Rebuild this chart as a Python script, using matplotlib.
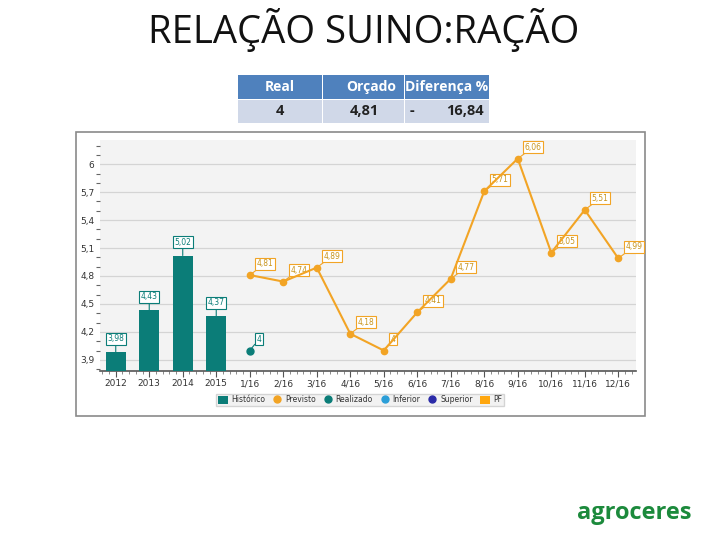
import matplotlib
matplotlib.use("Agg")
import matplotlib.pyplot as plt
from matplotlib.patches import Rectangle
from matplotlib.lines import Line2D
from matplotlib.patches import Patch

# dados
categorias = ["2012", "2013", "2014", "2015", "1/16", "2/16", "3/16", "4/16", "5/16", "6/16",
              "7/16", "8/16", "9/16", "10/16", "11/16", "12/16"]
historico = [3.98, 4.43, 5.02, 4.37]
previsto = [4.81, 4.74, 4.89, 4.18, 4.00, 4.41, 4.77, 5.71, 6.06, 5.05, 5.51, 4.99]
realizado = [4.0]
y_ticks = [3.9, 4.2, 4.5, 4.8, 5.1, 5.4, 5.7, 6.0]
tab_header = ["Real", "Orçado", "Diferença %"]
tab_valores = ["4", "4,81", "-", "16,84"]

TEAL = "#0b7d78"
ORANGE = "#f2a425"
GOLD = "#c8951e"


def fmt(v):
    s = f"{v:.2f}".rstrip("0").rstrip(".")
    return s.replace(".", ",")


fig = plt.figure(figsize=(7.2, 5.4), dpi=100)

# titulo
fig.text(0.505, 0.945, "RELAÇÃO SUINO:RAÇÃO", ha="center", va="center",
         fontsize=27.5, family="Open Sans", color="#111111")

# tabela
col_x = [238, 323, 405, 490]
for i, h in enumerate(tab_header):
    x0 = col_x[i] / 720
    w = (col_x[i + 1] - col_x[i] - 1) / 720
    fig.patches.append(Rectangle((x0, 1 - 99 / 540), w, 24 / 540, transform=fig.transFigure,
                                 facecolor="#4f81bd", edgecolor="none"))
    fig.patches.append(Rectangle((x0, 1 - 123 / 540), w, 23 / 540, transform=fig.transFigure,
                                 facecolor="#d0d8e8", edgecolor="none"))
fig.text(280 / 720, 1 - 87 / 540, tab_header[0], ha="center", va="center", fontsize=10,
         weight="bold", color="white", family="Open Sans")
fig.text(371 / 720, 1 - 87 / 540, tab_header[1], ha="center", va="center", fontsize=10,
         weight="bold", color="white", family="Open Sans")
fig.text(447 / 720, 1 - 87 / 540, tab_header[2], ha="center", va="center", fontsize=10,
         weight="bold", color="white", family="Open Sans")
fig.text(280 / 720, 1 - 111 / 540, tab_valores[0], ha="center", va="center", fontsize=10.5,
         weight="bold", color="#222222", family="Open Sans")
fig.text(379 / 720, 1 - 111 / 540, tab_valores[1], ha="right", va="center", fontsize=10.5,
         weight="bold", color="#222222", family="Open Sans")
fig.text(410 / 720, 1 - 111 / 540, tab_valores[2], ha="left", va="center", fontsize=10.5,
         weight="bold", color="#222222", family="Open Sans")
fig.text(484 / 720, 1 - 111 / 540, tab_valores[3], ha="right", va="center", fontsize=10.5,
         weight="bold", color="#222222", family="Open Sans")

# moldura do grafico
fig.patches.append(Rectangle((76 / 720, 1 - 416 / 540), 569 / 720, 284 / 540,
                             transform=fig.transFigure, facecolor="none",
                             edgecolor="#8a8a8a", linewidth=1.2, zorder=-1))

ax = fig.add_axes([100 / 720, 1 - 371 / 540, 536 / 720, 231 / 540])
ax.set_facecolor("#f3f3f3")

xs = list(range(len(categorias)))
xh = xs[:len(historico)]
xp = xs[len(historico):]
ax.bar(xh, historico, width=0.6, color=TEAL, zorder=3)
ax.plot(xp, previsto, color=ORANGE, lw=1.5, marker="o", ms=4.5, zorder=4)
ax.plot(xp[:len(realizado)], realizado, ls="none", marker="o", ms=5, color=TEAL, zorder=5)

ax.set_xlim(-0.47, 15.53)
ax.set_ylim(3.78, 6.26)
ax.set_yticks(y_ticks)
ax.set_yticklabels([fmt(v) if v != 6.0 else "6" for v in y_ticks])
ax.set_yticks([3.8 + 0.1 * k for k in range(25)], minor=True)
ax.set_xticks(xs)
ax.set_xticklabels(categorias)
ax.set_xticks([k / 5 - 0.4 for k in range(80)], minor=True)
ax.tick_params(axis="both", labelsize=6.5, colors="#555555", labelcolor="#333333")
ax.tick_params(axis="y", which="major", length=0, pad=4)
ax.tick_params(axis="y", which="minor", length=3, width=0.8, color="#666666")
ax.tick_params(axis="x", which="major", length=4, color="#555555", pad=2)
ax.tick_params(axis="x", which="minor", length=2, color="#777777")
ax.grid(axis="y", color="#d4d4d4", lw=0.9, zorder=1)
for s in ["top", "right", "left"]:
    ax.spines[s].set_visible(False)
ax.spines["bottom"].set_color("#555555")
ax.spines["bottom"].set_linewidth(1.2)

# rotulos
for x, v in zip(xh, historico):
    ax.annotate(fmt(v), xy=(x, v), xytext=(0, 9), textcoords="offset pixels",
                ha="center", va="bottom", fontsize=5.5, color=TEAL,
                bbox=dict(boxstyle="square,pad=0.2", fc="white", ec=TEAL, lw=0.8),
                arrowprops=dict(arrowstyle="-", color=TEAL, lw=0.8, shrinkA=0, shrinkB=0))
for x, v in zip(xp, previsto):
    ax.annotate(fmt(v), xy=(x, v), xytext=(7, 7), textcoords="offset pixels",
                ha="left", va="bottom", fontsize=5.5, color=GOLD,
                bbox=dict(boxstyle="square,pad=0.2", fc="white", ec=ORANGE, lw=0.8),
                arrowprops=dict(arrowstyle="-", color=ORANGE, lw=0.8, shrinkA=0, shrinkB=0))
for x, v in zip(xp, realizado):
    ax.annotate(fmt(v), xy=(x, v), xytext=(7, 7), textcoords="offset pixels",
                ha="left", va="bottom", fontsize=5.5, color=TEAL,
                bbox=dict(boxstyle="square,pad=0.2", fc="white", ec=TEAL, lw=0.8),
                arrowprops=dict(arrowstyle="-", color=TEAL, lw=0.8, shrinkA=0, shrinkB=0))

# legenda
handles = [
    Patch(facecolor=TEAL, edgecolor="none", label="Histórico"),
    Line2D([], [], ls="none", marker="o", ms=5, color=ORANGE, label="Previsto"),
    Line2D([], [], ls="none", marker="o", ms=5, color=TEAL, label="Realizado"),
    Line2D([], [], ls="none", marker="o", ms=5, color="#2c9fd8", label="Inferior"),
    Line2D([], [], ls="none", marker="o", ms=5, color="#2b2ba8", label="Superior"),
    Patch(facecolor="#ffa70f", edgecolor="none", label="PF"),
]
leg = fig.legend(handles=handles, loc="center", bbox_to_anchor=(360 / 720, 1 - 400 / 540),
                 ncol=6, fontsize=5.5, frameon=True, fancybox=False, handlelength=1.3,
                 handleheight=1.4, handletextpad=0.4, columnspacing=0.9, borderpad=0.25)
leg.get_frame().set_facecolor("#efefef")
leg.get_frame().set_edgecolor("#cccccc")
for t in leg.get_texts():
    t.set_color("#333333")

# logo
fig.text(634 / 720, 1 - 513 / 540, "agroceres", ha="center", va="center", fontsize=17,
         weight="bold", color="#1c8a3c", family="Open Sans")

fig.savefig("out.png", dpi=100)
